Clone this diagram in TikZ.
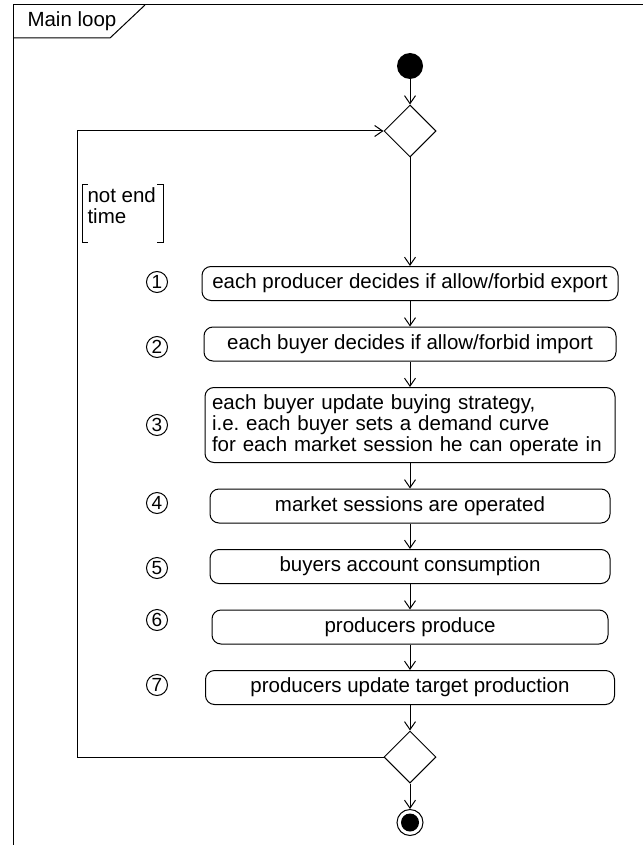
\documentclass[tikz,border=0pt]{standalone}
\usepackage{fontspec}
\setmainfont{Liberation Sans}
\usetikzlibrary{arrows.meta, positioning, shapes.geometric}

\begin{document}
\begin{tikzpicture}[
  x=1pt, y=-1pt,
  node distance=25.5pt,
  font=\fontsize{20.5}{21}\selectfont\frenchspacing,
  >={Straight Barb[length=8pt, width=11pt]},
  line width=1pt,
  act/.style={draw, rounded corners=9pt, align=center, minimum height=34pt, inner sep=0pt},
  cond/.style={draw, diamond, minimum width=52pt, minimum height=52pt, inner sep=0pt},
  initnode/.style={circle, fill, minimum size=26pt, inner sep=0pt},
  finalnode/.style={circle, draw, minimum size=26pt, inner sep=0pt,
    path picture={\fill (path picture bounding box.center) circle (9pt);}},
  stepnum/.style={circle, draw, minimum size=21pt, inner sep=0pt, font=\fontsize{19}{19}\selectfont}
]
\useasboundingbox (0,0) rectangle (643,845);

% Frame with title tab
\draw (13,845) -- (13,5) -- (643,5);
\draw (13,38) -- (110,38) -- (145,5);
\node[anchor=west, inner sep=0pt] (title) at (27,21) {Main loop};

% Main column
\node[initnode] (start) at (410,66) {};
\node[cond, below=25pt of start] (loop) {};
\node[act, minimum width=416pt, below=108.5pt of loop] (export) {each producer decides if allow/forbid export};
\node[act, minimum width=412pt, below=of export] (import) {each buyer decides if allow/forbid import};
\node[act, text width=396pt, inner xsep=7pt, inner ysep=6pt, minimum height=75pt, align=left, below=of import] (strategy)
  {each buyer update buying strategy,\\i.e. each buyer sets a demand curve\\for each market session he can operate in};
\node[act, minimum width=400pt, below=of strategy] (market) {market sessions are operated};
\node[act, minimum width=400pt, below=of market] (consume) {buyers account consumption};
\node[act, minimum width=396pt, below=of consume] (produce) {producers produce};
\node[act, minimum width=409pt, below=of produce] (target) {producers update target production};
\node[cond, below=of target] (merge) {};
\node[finalnode, below=of merge] (stop) {};

% Step numbers
\node[stepnum] (num1) at (157,282) {1};
\node[stepnum] (num2) at (157,347) {2};
\node[stepnum] (num3) at (157,425) {3};
\node[stepnum] (num4) at (157,503) {4};
\node[stepnum] (num5) at (157,568) {5};
\node[stepnum] (num6) at (157,620) {6};
\node[stepnum] (num7) at (157,685) {7};

% Guard
\node[anchor=north west, align=left, inner sep=0pt] (guard) at (87,187) {not end\\time};
\draw (88,184) -- (82,184) -- (82,242) -- (88,242);
\draw (157,184) -- (163,184) -- (163,242) -- (157,242);

% Arrows
\draw[->] (start) -- (loop);
\draw[->] (loop) -- (export);
\draw[->] (export) -- (import);
\draw[->] (import) -- (strategy);
\draw[->] (strategy) -- (market);
\draw[->] (market) -- (consume);
\draw[->] (consume) -- (produce);
\draw[->] (produce) -- (target);
\draw[->] (target) -- (merge);
\draw[->] (merge) -- (stop);
\draw[->] (merge.west) -- ++(-306,0) |- (loop.west);

\end{tikzpicture}
\end{document}
